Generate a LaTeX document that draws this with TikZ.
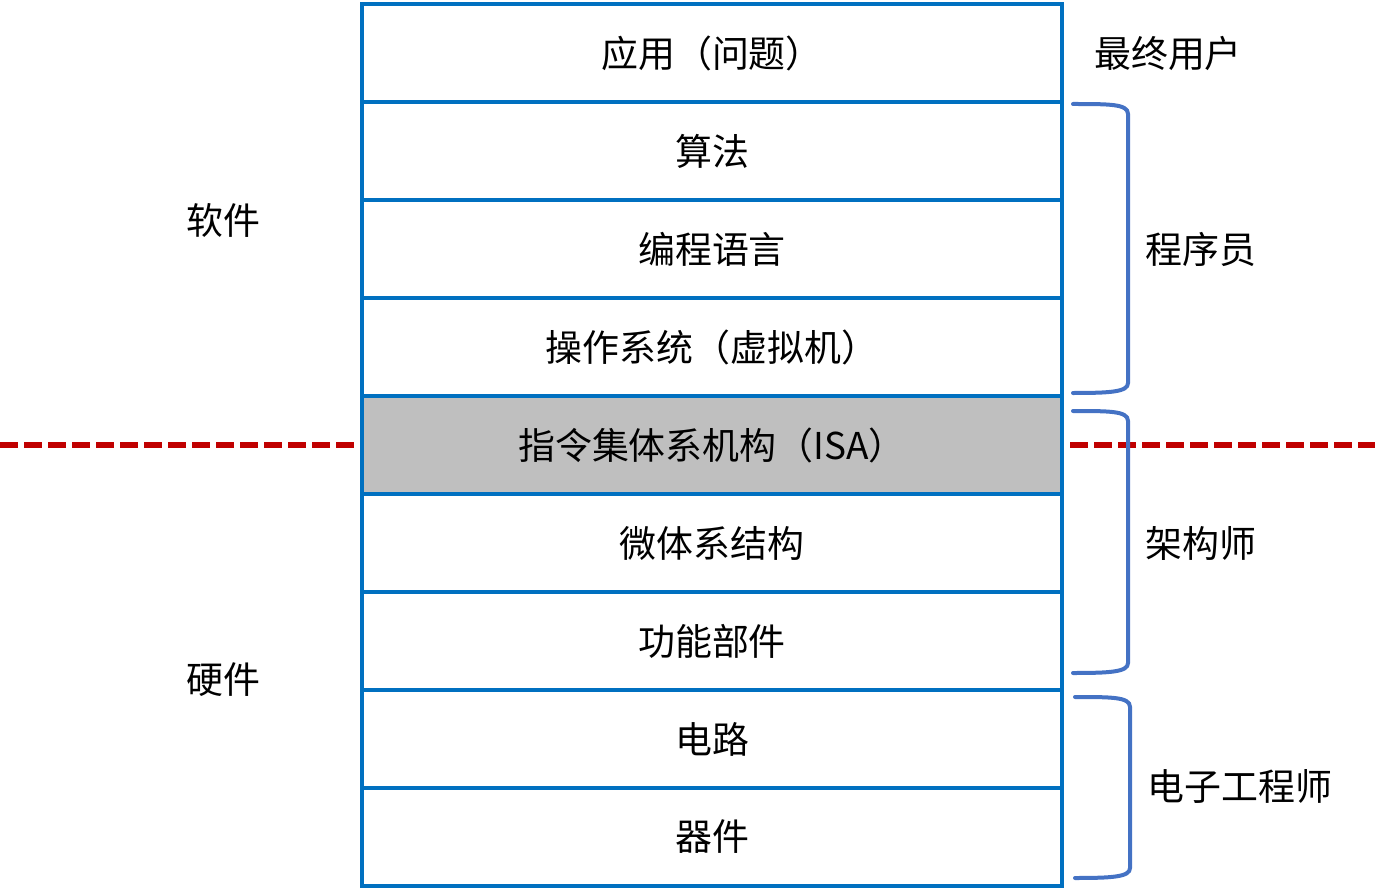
\documentclass[tikz,border=0pt]{standalone}
\usepackage{fontspec}
\newfontfamily\cjk{Noto Sans CJK SC}
\definecolor{boxblue}{HTML}{0070C0}
\definecolor{brblue}{HTML}{4472C4}
\definecolor{redline}{HTML}{C00000}
\definecolor{isagray}{HTML}{BFBFBF}
\begin{document}
\begin{tikzpicture}[x=0.75pt,y=-0.75pt,
  layer/.style={draw=boxblue,line width=3.6pt,fill=white,minimum width=525pt,minimum height=73.5pt,inner sep=0pt,font=\cjk\fontsize{27.7pt}{32pt}\selectfont},
  lbl/.style={inner sep=0pt,font=\cjk\fontsize{27.7pt}{32pt}\selectfont},
  bracket/.style={draw=brblue,line width=3pt,line cap=round},
  divider/.style={draw=redline,line width=4pt,dash pattern=on 13.5pt off 4.5pt}]
\useasboundingbox (0,0) rectangle (1375,888);
% divider line
\coordinate (dl) at (0,445);
\coordinate (dr) at (1375,445);
\coordinate (dlend) at (358,445);
\coordinate (drstart) at (1070,445);
\draw[divider] (dl) -- (dlend);
\draw[divider] (drstart) -- (dr);
% layers
\node[layer] (r1) at (712,53) {应用（问题）};
\node[layer] (r2) at (712,151) {算法};
\node[layer] (r3) at (712,249) {编程语言};
\node[layer] (r4) at (712,347) {操作系统（虚拟机）};
\node[layer,fill=isagray] (r5) at (712,445) {指令集体系机构（ISA）};
\node[layer] (r6) at (712,543) {微体系结构};
\node[layer] (r7) at (712,641) {功能部件};
\node[layer] (r8) at (712,739) {电路};
\node[layer] (r9) at (712,837) {器件};
% side labels
\node[lbl] (sw) at (223,220) {软件};
\node[lbl] (hw) at (223,680) {硬件};
\node[lbl] (user) at (1168,53) {最终用户};
\node[lbl] (prog) at (1201,249) {程序员};
\node[lbl] (arch) at (1201,543) {架构师};
\node[lbl] (ee) at (1240,786) {电子工程师};
% brackets
\draw[bracket] (1073,104) .. controls (1110,104) and (1128,104) .. (1128,114) -- (1128,383) .. controls (1128,392) and (1110,393) .. (1073,393);
\draw[bracket] (1073,411) .. controls (1110,411) and (1128,411) .. (1128,421) -- (1128,663) .. controls (1128,672) and (1110,673) .. (1073,673);
\draw[bracket] (1075,697) .. controls (1112,697) and (1130,697) .. (1130,707) -- (1130,868) .. controls (1130,877) and (1112,878) .. (1075,878);
\end{tikzpicture}
\end{document}
